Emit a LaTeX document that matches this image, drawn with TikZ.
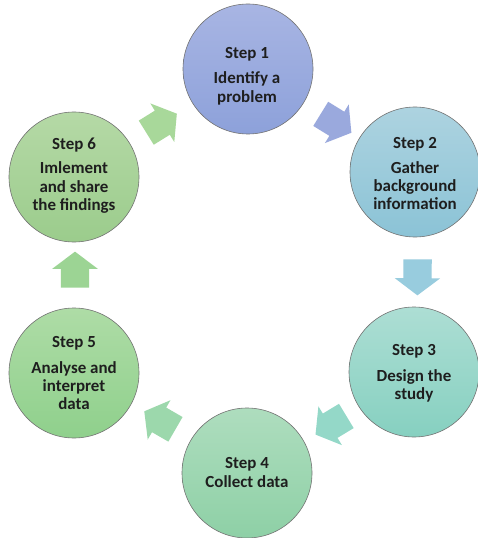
\documentclass[tikz,border=0pt]{standalone}
\usepackage{fontspec}
\setmainfont{Carlito}
\usetikzlibrary{shapes.arrows,calc}
\definecolor{c1t}{HTML}{A8B5E3}\definecolor{c1b}{HTML}{8DA1DA}
\definecolor{c2t}{HTML}{ADD3E0}\definecolor{c2b}{HTML}{8BC3D6}
\definecolor{c3t}{HTML}{ADDED4}\definecolor{c3b}{HTML}{86D0C0}
\definecolor{c4t}{HTML}{AEDDBE}\definecolor{c4b}{HTML}{8ED0A6}
\definecolor{c5t}{HTML}{AEDCA6}\definecolor{c5b}{HTML}{8FD08C}
\definecolor{c6t}{HTML}{B5D9A6}\definecolor{c6b}{HTML}{9BCC8C}
\definecolor{a1}{HTML}{9AA9DD}
\definecolor{a2}{HTML}{98CCDE}
\definecolor{a3}{HTML}{94D8C8}
\definecolor{a4}{HTML}{9CD8AC}
\definecolor{a5}{HTML}{9CD494}
\definecolor{a6}{HTML}{A8D89A}
\definecolor{txt}{HTML}{1E1E1E}
\begin{document}
\begin{tikzpicture}[x=1bp,y=-1bp,
 stepcirc/.style={circle,minimum size=130bp,inner sep=0,draw=black!55,line width=0.6bp},
 steptext/.style={anchor=north,align=center,inner sep=0,font=\fontsize{17}{18.5}\selectfont\bfseries,text=txt},
 cyclearrow/.style={single arrow,draw=none,minimum height=36bp,inner xsep=0,inner ysep=14bp,single arrow head extend=8.5bp,single arrow tip angle=106,single arrow head indent=0}]
\fill[white] (0,0) rectangle (478,538);
\useasboundingbox (0,0) rectangle (478,538);
\node[stepcirc,top color=c1t,bottom color=c1b] (c1) at (248,69) {};
\node[stepcirc,top color=c2t,bottom color=c2b] (c2) at (415,172) {};
\node[stepcirc,top color=c3t,bottom color=c3b] (c3) at (414,372) {};
\node[stepcirc,top color=c4t,bottom color=c4b] (c4) at (247,473) {};
\node[stepcirc,top color=c5t,bottom color=c5b] (c5) at (74,373) {};
\node[stepcirc,top color=c6t,bottom color=c6b] (c6) at (74,177) {};
\node[steptext] (t1) at (247,47.5) {Step 1\\[6.5pt]Identify a\\problem};
\node[steptext] (t2) at (415,137.3) {Step 2\\[6pt]Gather\\background\\information};
\node[steptext] (t3) at (414,344.3) {Step 3\\[7.5pt]Design the\\study};
\node[steptext] (t4) at (247,457.3) {Step 4\\Collect data};
\node[steptext] (t5) at (74,336.3) {Step 5\\[7pt]Analyse and\\interpret\\data};
\node[steptext] (t6) at (74,137.3) {Step 6\\[6.5pt]Imlement\\and share\\the findings};
\path let \p1=($(c2)-(c1)$) in node[cyclearrow,fill=a1,rotate={atan2(\y1,\x1)}] (a12) at ($(c1)!0.5!(c2)$) {};
\path let \p1=($(c3)-(c2)$) in node[cyclearrow,fill=a2,rotate={atan2(\y1,\x1)}] (a23) at ($(c2)!0.5!(c3)+(3,0)$) {};
\path let \p1=($(c4)-(c3)$) in node[cyclearrow,fill=a3,rotate={atan2(\y1,\x1)}] (a34) at ($(c3)!0.5!(c4)+(5,0)$) {};
\path let \p1=($(c5)-(c4)$) in node[cyclearrow,fill=a4,rotate={atan2(\y1,\x1)}] (a45) at ($(c4)!0.5!(c5)+(4,0)$) {};
\path let \p1=($(c6)-(c5)$) in node[cyclearrow,fill=a5,rotate={atan2(\y1,\x1)}] (a56) at ($(c5)!0.5!(c6)+(1,0)$) {};
\path let \p1=($(c1)-(c6)$) in node[cyclearrow,fill=a6,rotate={atan2(\y1,\x1)}] (a61) at ($(c6)!0.5!(c1)+(-4,3)$) {};
\end{tikzpicture}
\end{document}
